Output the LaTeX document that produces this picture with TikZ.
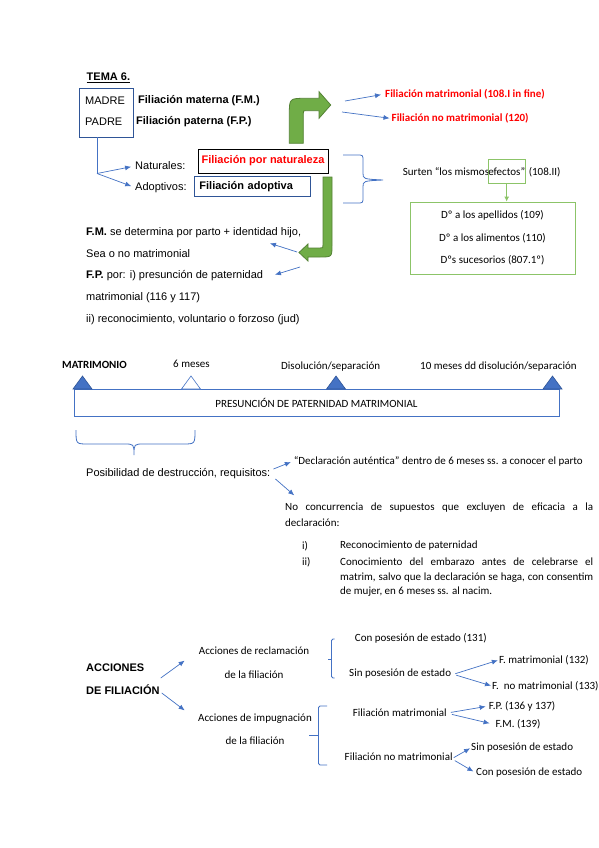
\documentclass[tikz,border=0pt]{standalone}
\usepackage{fontspec}
\setmainfont{Carlito}
\newfontfamily\arialfont{Liberation Sans}
\usetikzlibrary{positioning}
\usetikzlibrary{calc}
\usetikzlibrary{arrows.meta}
\definecolor{lineblue}{RGB}{68,114,196}
\definecolor{frameblue}{RGB}{47,85,151}
\definecolor{arrowgreen}{RGB}{112,173,71}
\definecolor{edgegreen}{RGB}{84,130,53}
\definecolor{framegreen}{RGB}{140,196,104}
\tikzset{every picture/.style={x=1pt,y=-1pt},
cal/.style={anchor=west,inner sep=0pt,font=\fontsize{11}{13}\selectfont},
ari/.style={anchor=west,inner sep=0pt,font=\arialfont\fontsize{11}{13}\selectfont},
arib/.style={ari,font=\arialfont\bfseries\fontsize{11}{13}\selectfont},
redb/.style={cal,text=red,font=\bfseries\fontsize{11}{13}\selectfont},
link/.style={draw=lineblue,line width=0.7pt,-{Latex[length=6pt,width=5pt]},shorten >=1pt},
curl/.style={draw=lineblue,line width=0.8pt},
bent/.style={fill=arrowgreen,draw=edgegreen,line width=0.8pt},
milestone/.style={fill=lineblue,draw=frameblue,line width=0.6pt}}
\begin{document}
\begin{tikzpicture}
\fill[white] (0,0) rectangle (599,848);
\useasboundingbox (0,0) rectangle (599,848);

\node (tema) [arib] at (86.5,78) {\underline{TEMA 6.}};
\node (parents) [draw=frameblue,line width=0.9pt,minimum width=54,minimum height=49,inner sep=0pt] at (106,112.5) {};
\node (madre) [ari] at (85,100.5) {MADRE};
\node (padre) [ari] at (85,121.5) {PADRE};
\node (fm) [arib] at (138,100.5) {Filiación materna (F.M.)};
\node (fp) [arib] at (136,121.5) {Filiación paterna (F.P.)};

\fill[bent] (289.3,143.3) -- (289.3,115) .. controls (289.3,98.3) .. (306,98.3) -- (319,98.3) -- (319,91.7) -- (330.7,105) -- (319,118.3) -- (319,110.7) -- (306,110.7) .. controls (303.3,110.7) .. (303.3,113.4) -- (303.3,143.3) -- cycle;
\node (fmat) [redb] at (385,94) {Filiación matrimonial (108.I in fine)};
\node (fnomat) [redb] at (391.5,118.5) {Filiación no matrimonial (120)};
\coordinate (bend1) at (345,101);
\coordinate (bend2) at (342,112);
\draw[link,shorten >=4pt] (bend1) -- (fmat.west);
\draw[link,shorten >=2pt] (bend2) -- (fnomat.west);

\node (nat) [ari] at (135,166) {Naturales:};
\node (adop) [ari] at (135,187.5) {Adoptivos:};
\coordinate (fork) at (97,173.5);
\draw[curl] (parents.south -| fork) -- (fork);
\draw[link,shorten >=4pt] (fork) -- (nat.west);
\draw[link,shorten >=4pt] (fork) -- (adop.west);
\node (natbox) [draw=black,line width=0.9pt,minimum width=130,minimum height=24,inner sep=0pt,text=red,font=\arialfont\bfseries\fontsize{11}{13}\selectfont] at (263,161) {Filiación por naturaleza};
\node (adopbox) [draw=frameblue,line width=0.9pt,anchor=west,inner xsep=5pt,inner ysep=0pt,text width=106pt,minimum height=20,font=\arialfont\bfseries\fontsize{11}{13}\selectfont] at (194,186.7) {Filiación adoptiva};
\draw[curl] (343,155) -- (357,155) .. controls (363,155) .. (363,161) -- (363,173) .. controls (363,179) .. (383,180) .. controls (363,181) .. (363,187) -- (363,197) .. controls (363,203) .. (357,203) -- (343,203);

\fill[bent] (323,177) -- (332,177) -- (332,245) .. controls (332,257) .. (320,257) -- (308,257) -- (308,261) -- (299,252.5) -- (308,244) -- (308,248) -- (320,248) .. controls (323,248) .. (323,245) -- cycle;
\node (fmfp) [ari,align=left,font=\arialfont\fontsize{11}{21.65}\selectfont] at (86,276) {\textbf{F.M.} se determina por parto + identidad hijo,\\Sea o no matrimonial\\\textbf{F.P.} por: i) presunción de paternidad\\matrimonial (116 y 117)\\ii) reconocimiento, voluntario o forzoso (jud)};
\coordinate (headtop) at (297,252);
\coordinate (headlow) at (300,267);
\coordinate (tipfm) at (269,243);
\coordinate (tipfp) at (274,275);
\draw[link] (headtop) -- (tipfm);
\draw[link] (headlow) -- (tipfp);

\node (surten) [cal,anchor=base west] at (402.7,175.3) {Surten “los mismos\ };
\node (efectos) [draw=framegreen,line width=0.9pt,inner xsep=0pt,minimum height=24,right=-1.5pt of surten.base east,anchor=base west,font=\fontsize{11}{13}\selectfont] {efectos”};
\node (artnum) [cal,right=3pt of efectos.base east,anchor=base west] {(108.II)};
\node (derechos) [draw=framegreen,line width=0.9pt,minimum width=165,minimum height=72,inner sep=0pt,align=center,font=\fontsize{11}{22.6}\selectfont] at (492.5,238) {Dº a los apellidos (109)\\Dº a los alimentos (110)\\Dºs sucesorios (807.1º)};
\draw[draw=framegreen,line width=0.9pt,-{Latex[length=5pt,width=5pt]}] (efectos.south) -- (derechos.north -| efectos.south);

\node (tmat) [cal,font=\bfseries\fontsize{11}{13}\selectfont] at (62,365) {MATRIMONIO};
\node (tsix) [cal] at (173,364) {6 meses};
\node (tdis) [cal] at (281,367) {Disolución/separación};
\node (tten) [cal] at (420,367) {10 meses dd disolución/separación};
\node (presun) [draw=lineblue,line width=1pt,minimum width=485,minimum height=27,inner sep=0pt,font=\fontsize{11}{13}\selectfont] at (316.5,402.5) {PRESUNCIÓN DE PATERNIDAD MATRIMONIAL};
\foreach \cx in {82.5,336,552.5} {
\fill[milestone] (\cx-9.5,389) -- (\cx,376) -- (\cx+9.5,389) -- cycle;
}
\filldraw[milestone,fill=white,draw=lineblue] (181.5,389) -- (191,376) -- (200.5,389) -- cycle;

\draw[curl] (76,430) .. controls (76,444) .. (88,444) -- (124,444) .. controls (134,444) .. (134,455) .. controls (134,444) .. (144,444) -- (183,444) .. controls (195,444) .. (195,430);
\node (posib) [ari] at (86,474) {Posibilidad de destrucción, requisitos:};
\node (decl) [cal] at (293.6,461) {“Declaración auténtica” dentro de 6 meses ss. a conocer el parto};
\draw[link,shorten >=3pt] ($(posib.east)+(3,-5)$) -- (decl.west);
\node (noconc) [cal,anchor=north west,text width=308pt,align=justify,font=\fontsize{11}{16}\selectfont] at (285,503) {\tolerance=9999 No concurrencia de supuestos que excluyen de eficacia a la\linebreak declaración:};
\draw[link] ($(posib.east)+(5,5)$) -- ($(noconc.north west)+(10,-7)$);
\node (numi) [cal] at (302,546) {i)};
\node (reco) [cal] at (340,546) {Reconocimiento de paternidad};
\node (numii) [cal] at (302,562) {ii)};
\node (conoc) [cal,anchor=north west,text width=253pt,align=justify,font=\fontsize{11}{14.3}\selectfont] at (340,558) {\tolerance=9999 Conocimiento del embarazo antes de celebrarse el\linebreak matrim, salvo que la declaración se haga, con consentim\linebreak de mujer, en 6 meses ss. al nacim.};

\node (acc) [arib,align=left,font=\arialfont\bfseries\fontsize{11}{23.1}\selectfont] at (86,679) {ACCIONES\\DE FILIACIÓN};
\node (recl) [cal,anchor=center,align=center,font=\fontsize{11}{23.4}\selectfont] at (254,662.7) {Acciones de reclamación\\de la filiación};
\node (imp) [cal,anchor=center,align=center,font=\fontsize{11}{22.6}\selectfont] at (255,729.3) {Acciones de impugnación\\de la filiación};
\coordinate (acctop) at (185.5,660);
\coordinate (accbot) at (185.5,711);
\draw[link] ($(acc.east)+(1,-1)$) -- (acctop);
\draw[link] ($(acc.east)+(2,14)$) -- (accbot);

\draw[curl,rounded corners=1.5pt] (334.5,639) -- (331.5,639) -- (331.5,678) -- (334.5,678);
\draw[curl] (331.5,659) -- (327.5,659);
\node (conpos) [cal] at (354.7,638.7) {Con posesión de estado (131)};
\node (sinpos) [cal] at (349,673.7) {Sin posesión de estado};
\node (f132) [cal] at (498.8,660) {F. matrimonial (132)};
\node (f133) [cal] at (492,686) {F.\ \ no matrimonial (133)};
\draw[link] ($(sinpos.east)+(4,0)$) -- (f132.west);
\draw[link] ($(sinpos.east)+(5,1.5)$) -- (f133.west);

\draw[curl,rounded corners=1.5pt] (327,706) -- (318.5,706) -- (318.5,765) -- (327,765);
\draw[curl] (318.5,735.5) -- (309,735.5);
\node (fimat) [cal] at (352.7,712.4) {Filiación matrimonial};
\node (fp136) [cal] at (488.6,706) {F.P. (136 y 137)};
\node (fm139) [cal] at (495.4,724.7) {F.M. (139)};
\draw[link,shorten >=3pt] ($(fimat.east)+(4,0)$) -- (fp136.west);
\draw[link,shorten >=6pt] ($(fimat.east)+(5,2)$) -- (fm139.west);
\node (finomat) [cal] at (344.5,756.6) {Filiación no matrimonial};
\node (sinpos2) [cal] at (471,747.8) {Sin posesión de estado};
\node (conpos2) [cal] at (476,773) {Con posesión de estado};
\draw[link] ($(finomat.east)+(1,1)$) -- (sinpos2.west);
\draw[link,shorten >=3pt] ($(finomat.east)+(2,4)$) -- (conpos2.west);
\end{tikzpicture}
\end{document}
